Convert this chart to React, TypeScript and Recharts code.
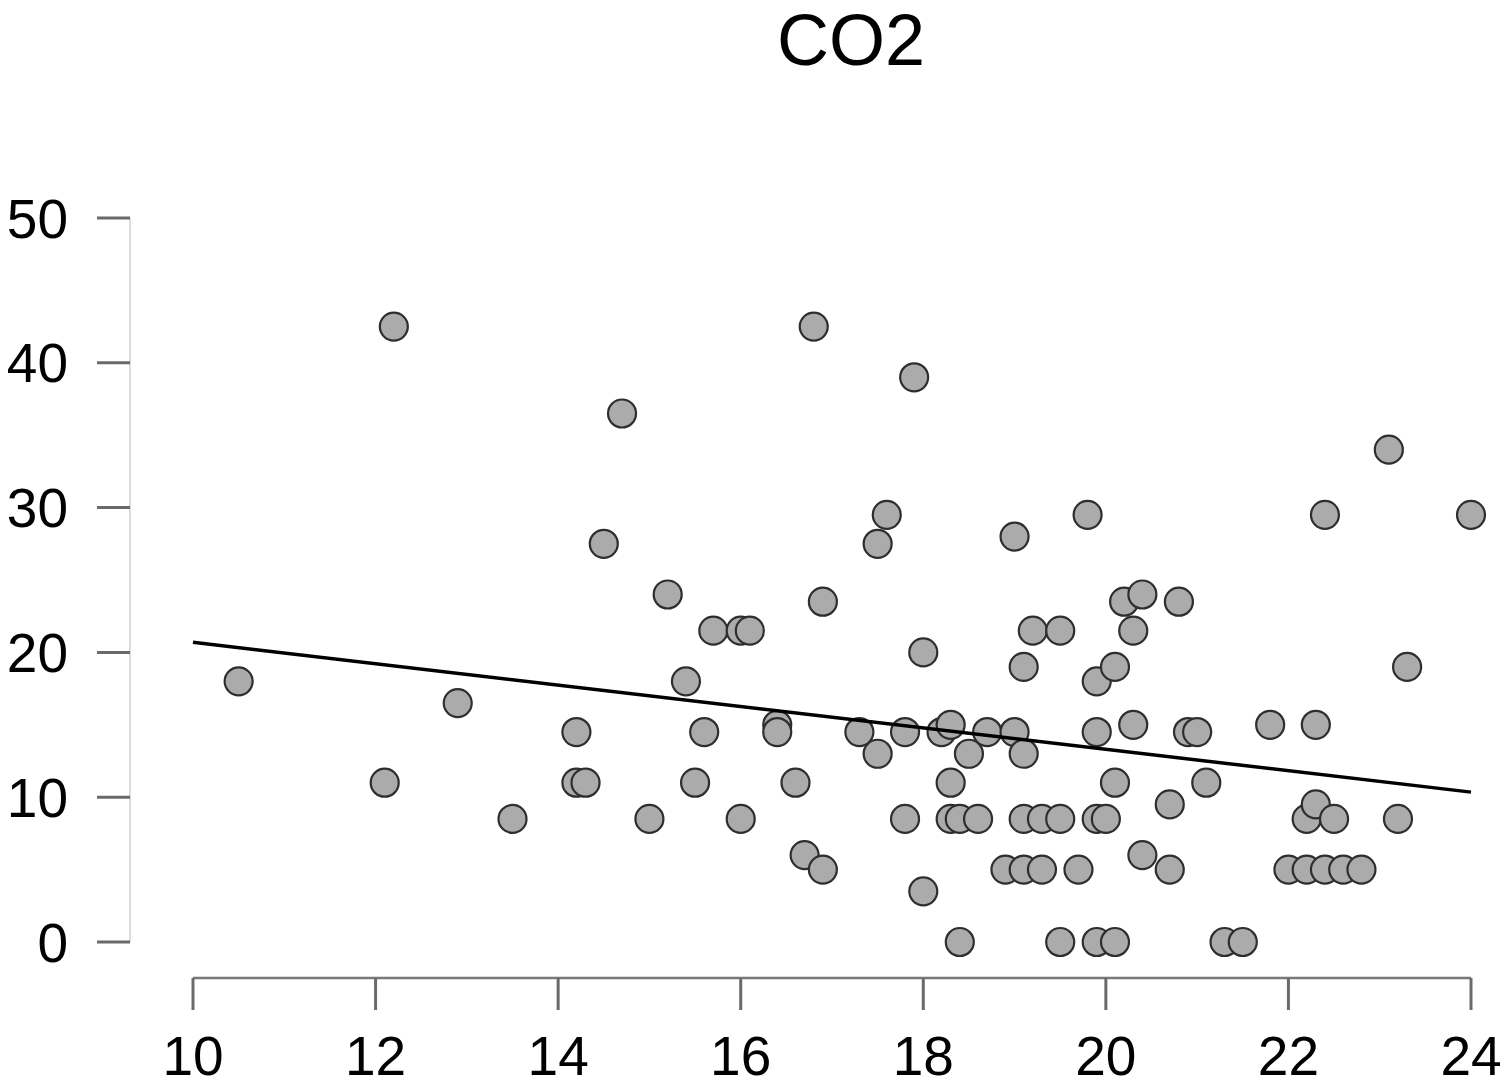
import { ScatterChart, Scatter, XAxis, YAxis } from "recharts";

const FONT = "'Liberation Sans', Arial, Helvetica, sans-serif";

const X_TICKS = [10, 12, 14, 16, 18, 20, 22, 24];
const Y_TICKS = [0, 10, 20, 30, 40, 50];

// temperature-like x, CO2 y
const POINT_X = [
  10.5, 12.2, 12.1, 12.9, 13.5, 14.2, 14.2, 14.3, 14.7, 14.5,
  15.0, 15.2, 15.4, 15.5, 15.6, 15.7, 16.0, 16.1, 16.0, 16.4,
  16.4, 16.6, 16.7, 16.8, 16.9, 16.9, 17.3, 17.5, 17.6, 17.5,
  17.8, 17.8, 17.9, 18.0, 18.0, 18.2, 18.3, 18.3, 18.3, 18.4,
  18.4, 18.5, 18.6, 18.7, 18.9, 19.0, 19.0, 19.1, 19.1, 19.1,
  19.1, 19.2, 19.3, 19.3, 19.5, 19.5, 19.5, 19.7, 19.8, 19.9,
  19.9, 19.9, 19.9, 20.0, 20.1, 20.1, 20.1, 20.2, 20.3, 20.3,
  20.4, 20.4, 20.7, 20.7, 20.8, 20.9, 21.0, 21.1, 21.3, 21.5,
  21.8, 22.0, 22.2, 22.2, 22.3, 22.3, 22.4, 22.4, 22.5, 22.6,
  22.8, 23.1, 23.3, 23.2, 24.0,
];
const POINT_Y = [
  18, 42.5, 11, 16.5, 8.5, 14.5, 11, 11, 36.5, 27.5,
  8.5, 24, 18, 11, 14.5, 21.5, 21.5, 21.5, 8.5, 15,
  14.5, 11, 6, 42.5, 5, 23.5, 14.5, 27.5, 29.5, 13,
  14.5, 8.5, 39, 20, 3.5, 14.5, 15, 11, 8.5, 8.5,
  0, 13, 8.5, 14.5, 5, 28, 14.5, 19, 13, 8.5,
  5, 21.5, 8.5, 5, 21.5, 8.5, 0, 5, 29.5, 18,
  14.5, 8.5, 0, 8.5, 19, 11, 0, 23.5, 21.5, 15,
  24, 6, 9.5, 5, 23.5, 14.5, 14.5, 11, 0, 0,
  15, 5, 8.5, 5, 15, 9.5, 29.5, 5, 8.5, 5,
  5, 34, 19, 8.5, 29.5,
];

// fitted line end points
const TREND_X = [10, 24];
const TREND_Y = [20.7, 10.35];

const points = POINT_X.map((x, i) => ({ x, y: POINT_Y[i] }));
const trend = TREND_X.map((x, i) => ({ x, y: TREND_Y[i] }));

// eslint-disable-next-line @typescript-eslint/no-explicit-any
const Dot = (p: any) => (
  <circle cx={p.cx} cy={p.cy} r={14} fill="#ababab" stroke="#2e2e2e" strokeWidth={2.2} />
);

const tickStyle = { fill: "#000", fontSize: 55, fontFamily: FONT };

export default function App() {
  return (
    <div style={{ position: "absolute", left: 0, top: 0, background: "#fff" }}>
      <ScatterChart width={1508} height={1088} margin={{ top: 218, right: 37, left: 0, bottom: 0 }}>
        <text x={851} y={65} textAnchor="middle" style={{ fontSize: 72, fontFamily: FONT, fill: "#000" }}>
          CO2
        </text>
        <XAxis
          type="number" dataKey="x" domain={[10, 24]} ticks={X_TICKS} interval={0}
          padding={{ left: 63, right: 0 }} height={110}
          axisLine={{ stroke: "#787878", strokeWidth: 2.5, strokeDasharray: "0 63 1278 0" }}
          tickLine={{ stroke: "#6a6a6a", strokeWidth: 3 }} tickSize={32} tickMargin={26}
          tick={tickStyle}
        />
        <YAxis
          type="number" dataKey="y" domain={[0, 50]} ticks={Y_TICKS} interval={0}
          padding={{ top: 0, bottom: 36 }} width={130}
          axisLine={{ stroke: "#cfcfcf", strokeWidth: 1.5, strokeDasharray: "724 100" }}
          tickLine={{ stroke: "#6a6a6a", strokeWidth: 3 }} tickSize={33} tickMargin={29}
          tick={tickStyle}
        />
        <Scatter data={points} shape={Dot} isAnimationActive={false} />
        <Scatter
          data={trend} line={{ stroke: "#000", strokeWidth: 3.5 }}
          shape={() => <g />} isAnimationActive={false}
        />
      </ScatterChart>
    </div>
  );
}
